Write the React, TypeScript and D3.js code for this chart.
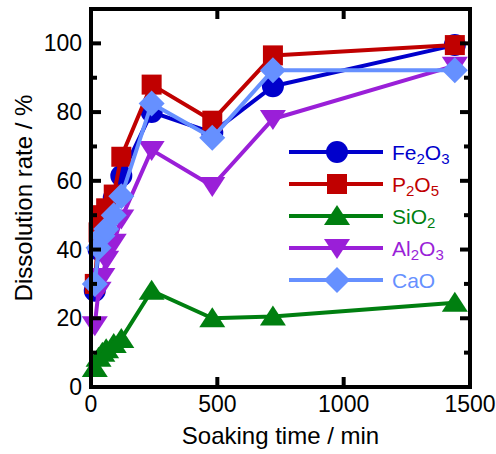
import React from "react";
import * as d3 from "d3";

// Soaking time (min) and dissolution rate (%).
const times = [15, 30, 45, 60, 90, 120, 240, 480, 720, 1440];
const fe2o3 = [28, 40, 45, 48, 55, 61.5, 80, 74, 87.5, 99.5];
const p2o5 = [30, 45, 50, 52, 56, 67, 88, 77.5, 96.5, 99.5];
const sio2 = [5.5, 8.5, 10, 11, 12.5, 14, 28, 20, 20.5, 24.5];
const al2o3 = [18, 28, 32, 37, 42, 49, 69, 58.5, 78, 93.5];
const cao = [30, 40.5, 44, 46, 50, 55.5, 82.5, 72.5, 92.2, 92.2];

const xTicks = [0, 500, 1000, 1500];
const yTicks = [0, 20, 40, 60, 80, 100];
const yMinor = [10, 30, 50, 70, 90];

type Series = { name: string; sub: string[]; values: number[]; color: string; shape: string };

const series: Series[] = [
  { name: "Fe2O3", sub: ["Fe", "2", "O", "3"], values: fe2o3, color: "#0000cc", shape: "circle" },
  { name: "P2O5", sub: ["P", "2", "O", "5"], values: p2o5, color: "#c00000", shape: "square" },
  { name: "SiO2", sub: ["SiO", "2"], values: sio2, color: "#007f10", shape: "up" },
  { name: "Al2O3", sub: ["Al", "2", "O", "3"], values: al2o3, color: "#9a1fd8", shape: "down" },
  { name: "CaO", sub: ["CaO"], values: cao, color: "#6690ff", shape: "diamond" },
];

const W = 496;
const H = 454;
const left = 91;
const right = 470;
const top = 9;
const bottom = 387;
const font = "Arial, 'Liberation Sans', sans-serif";

const x = d3.scaleLinear().domain([0, 1500]).range([left, right]);
const y = d3.scaleLinear().domain([0, 110]).range([bottom, top]);

function Marker({ shape, cx, cy, color }: { shape: string; cx: number; cy: number; color: string }) {
  if (shape === "circle") return <circle cx={cx} cy={cy} r={11} fill={color} />;
  if (shape === "square") return <rect x={cx - 10} y={cy - 10} width={20} height={20} fill={color} />;
  if (shape === "up")
    return <path d={`M${cx},${cy - 11}L${cx + 13},${cy + 9}L${cx - 13},${cy + 9}Z`} fill={color} />;
  if (shape === "down")
    return <path d={`M${cx},${cy + 11}L${cx + 13},${cy - 9}L${cx - 13},${cy - 9}Z`} fill={color} />;
  return <path d={`M${cx},${cy - 13}L${cx + 13},${cy}L${cx},${cy + 13}L${cx - 13},${cy}Z`} fill={color} />;
}

function Label({ parts, color, lx, ly }: { parts: string[]; color: string; lx: number; ly: number }) {
  return (
    <text x={lx} y={ly} fill={color} fontSize={21} fontFamily={font} dominantBaseline="central">
      {parts.map((p, i) =>
        /^\d$/.test(p) ? (
          <tspan key={i} fontSize={15} dy={6}>{p}</tspan>
        ) : (
          <tspan key={i} dy={i > 0 ? -6 : 0}>{p}</tspan>
        )
      )}
    </text>
  );
}

export default function App() {
  const line = d3
    .line<number>()
    .x((_, i) => x(times[i]))
    .y((d) => y(d));

  return (
    <svg width={W} height={H} style={{ position: "absolute", left: 0, top: 0 }}>
      <rect width={W} height={H} fill="#fff" />
      {series.map((s) => (
        <g key={s.name}>
          <path d={line(s.values) || ""} fill="none" stroke={s.color} strokeWidth={4} strokeLinejoin="round" />
          {s.values.map((v, i) => (
            <Marker key={i} shape={s.shape} cx={x(times[i])} cy={y(v)} color={s.color} />
          ))}
        </g>
      ))}

      {/* frame and ticks */}
      <rect x={left} y={top} width={right - left} height={bottom - top} fill="none" stroke="#000" strokeWidth={4} />
      {xTicks.map((t) => (
        <g key={t}>
          <line x1={x(t)} x2={x(t)} y1={bottom} y2={bottom - 10} stroke="#000" strokeWidth={4} />
          <line x1={x(t)} x2={x(t)} y1={top} y2={top + 10} stroke="#000" strokeWidth={4} />
          <text x={x(t)} y={412} textAnchor="middle" fontSize={23} fontFamily={font}>{t}</text>
        </g>
      ))}
      {yTicks.map((t) => (
        <g key={t}>
          <line x1={left} x2={left + 10} y1={y(t)} y2={y(t)} stroke="#000" strokeWidth={4} />
          <line x1={right} x2={right - 10} y1={y(t)} y2={y(t)} stroke="#000" strokeWidth={4} />
          <text x={82} y={y(t)} textAnchor="end" dominantBaseline="central" fontSize={23} fontFamily={font}>{t}</text>
        </g>
      ))}
      {yMinor.map((t) => (
        <g key={t}>
          <line x1={left} x2={left + 6} y1={y(t)} y2={y(t)} stroke="#000" strokeWidth={4} />
          <line x1={right} x2={right - 6} y1={y(t)} y2={y(t)} stroke="#000" strokeWidth={4} />
        </g>
      ))}

      <text x={(left + right) / 2} y={444} textAnchor="middle" fontSize={24} fontFamily={font}>
        Soaking time / min
      </text>
      <text
        transform={`translate(32,${(top + bottom) / 2}) rotate(-90)`}
        textAnchor="middle"
        fontSize={24}
        fontFamily={font}
      >
        Dissolution rate / %
      </text>

      {/* legend */}
      {series.map((s, i) => {
        const ly = 152 + i * 32;
        return (
          <g key={s.name}>
            <line x1={289} x2={383} y1={ly} y2={ly} stroke={s.color} strokeWidth={4} />
            <Marker shape={s.shape} cx={337} cy={ly} color={s.color} />
            <Label parts={s.sub} color={s.color} lx={392} ly={ly} />
          </g>
        );
      })}
    </svg>
  );
}
